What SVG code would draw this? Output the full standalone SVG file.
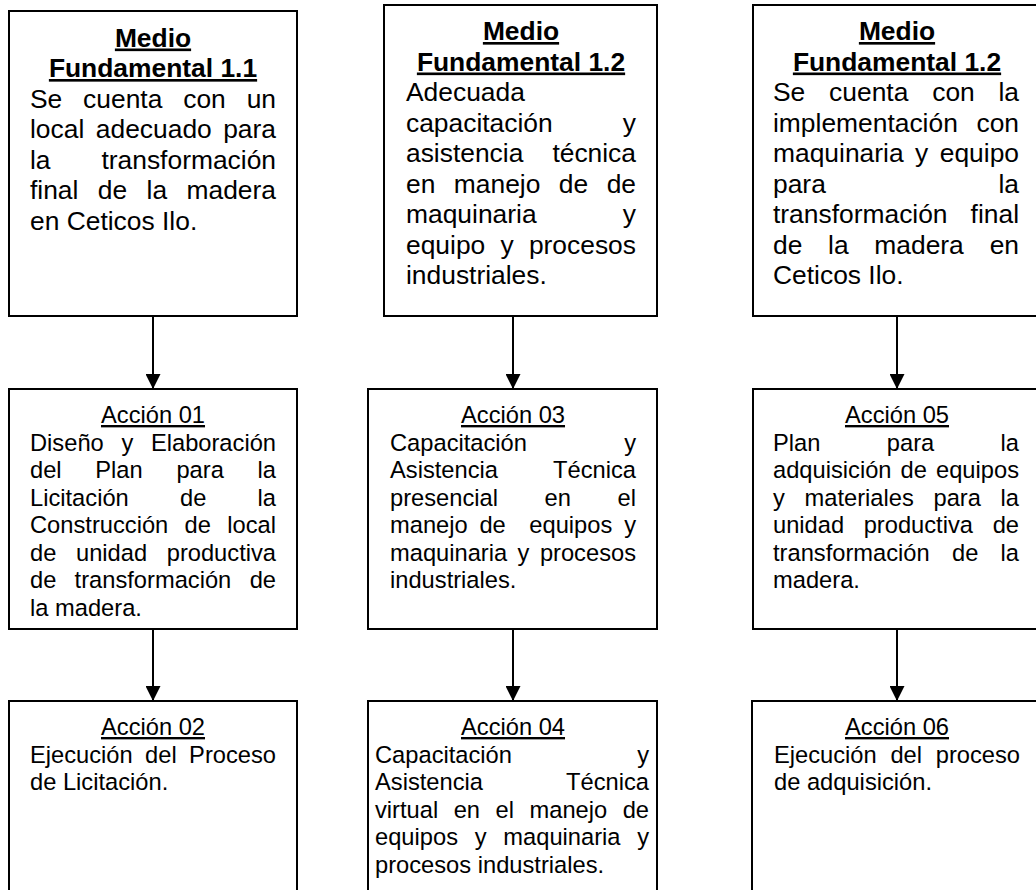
<svg xmlns="http://www.w3.org/2000/svg" width="1036" height="890" viewBox="0 0 1036 890">
<style>
rect.box{fill:#fff;stroke:#000;stroke-width:2}
text{font-family:"Liberation Sans",Arial,Helvetica,sans-serif;fill:#000}
.b1{font-size:26.4px}
.b2{font-size:23.7px}
.ttl{font-size:26.4px;font-weight:bold;text-anchor:middle;text-decoration:underline}
.act{font-size:23.7px;text-anchor:middle;text-decoration:underline}
.e{text-anchor:end}
.con{stroke:#000;stroke-width:2;fill:none;marker-end:url(#ah)}
</style>
<defs>
<marker id="ah" markerUnits="userSpaceOnUse" viewBox="0 0 15 15" markerWidth="15" markerHeight="15" refX="14" refY="7.5" orient="auto">
<path d="M0,0 L15,7.5 L0,15 Z" fill="#000"/>
</marker>
</defs>
<rect width="1036" height="890" fill="#fff"/>

<g id="connectors">
<line class="con" x1="153" y1="316" x2="153" y2="388"/>
<line class="con" x1="513" y1="316" x2="513" y2="388"/>
<line class="con" x1="897" y1="316" x2="897" y2="388"/>
<line class="con" x1="153" y1="629" x2="153" y2="700"/>
<line class="con" x1="513" y1="629" x2="513" y2="700"/>
<line class="con" x1="897" y1="629" x2="897" y2="700"/>
</g>

<g id="mf11">
<rect class="box" x="9" y="11" width="288" height="305"/>
<text class="ttl" x="153" y="46.5">Medio</text>
<text class="ttl" x="153" y="77">Fundamental 1.1</text>
<g class="b1">
<text x="30" y="107.5">Se</text><text x="83.1" y="107.5">cuenta</text><text x="183.2" y="107.5">con</text><text class="e" x="276" y="107.5">un</text>
<text x="30" y="138">local</text><text x="95.8" y="138">adecuado</text><text class="e" x="276" y="138">para</text>
<text x="30" y="168.5">la</text><text class="e" x="276" y="168.5">transformación</text>
<text x="30" y="199">final</text><text x="97.8" y="199">de</text><text x="146.6" y="199">la</text><text class="e" x="276" y="199">madera</text>
<text x="30" y="229.5">en Ceticos Ilo.</text>
</g>
</g>

<g id="mf12a">
<rect class="box" x="384" y="5" width="273" height="311"/>
<text class="ttl" x="521" y="40">Medio</text>
<text class="ttl" x="521" y="70.5">Fundamental 1.2</text>
<g class="b1">
<text x="406" y="101">Adecuada</text>
<text x="406" y="131.5">capacitación</text><text class="e" x="636" y="131.5">y</text>
<text x="406" y="162">asistencia</text><text class="e" x="636" y="162">técnica</text>
<text x="406" y="192.5">en</text><text x="453.8" y="192.5">manejo</text><text x="558.8" y="192.5">de</text><text class="e" x="636" y="192.5">de</text>
<text x="406" y="223">maquinaria</text><text class="e" x="636" y="223">y</text>
<text x="406" y="253.5">equipo</text><text x="500.5" y="253.5">y</text><text class="e" x="636" y="253.5">procesos</text>
<text x="406" y="284">industriales.</text>
</g>
</g>

<g id="mf12b">
<rect class="box" x="753" y="5" width="290" height="311"/>
<text class="ttl" x="897" y="40">Medio</text>
<text class="ttl" x="897" y="70.5">Fundamental 1.2</text>
<g class="b1">
<text x="773" y="101">Se</text><text x="829.1" y="101">cuenta</text><text x="932.2" y="101">con</text><text class="e" x="1019" y="101">la</text>
<text x="773" y="131.5">implementación</text><text class="e" x="1019" y="131.5">con</text>
<text x="773" y="162">maquinaria</text><text x="915" y="162">y</text><text class="e" x="1019" y="162">equipo</text>
<text x="773" y="192.5">para</text><text class="e" x="1019" y="192.5">la</text>
<text x="773" y="223">transformación</text><text class="e" x="1019" y="223">final</text>
<text x="773" y="253.5">de</text><text x="828.1" y="253.5">la</text><text x="874.3" y="253.5">madera</text><text class="e" x="1019" y="253.5">en</text>
<text x="773" y="284">Ceticos Ilo.</text>
</g>
</g>

<g id="accion01">
<rect class="box" x="9" y="389" width="288" height="240"/>
<text class="act" x="153" y="423">Acción 01</text>
<g class="b2">
<text x="30" y="450.5">Diseño</text><text x="121.4" y="450.5">y</text><text class="e" x="276" y="450.5">Elaboración</text>
<text x="30" y="478">del</text><text x="95.3" y="478">Plan</text><text x="176.4" y="478">para</text><text class="e" x="276" y="478">la</text>
<text x="30" y="505.5">Licitación</text><text x="180" y="505.5">de</text><text class="e" x="276" y="505.5">la</text>
<text x="30" y="533">Construcción</text><text x="184.6" y="533">de</text><text class="e" x="276" y="533">local</text>
<text x="30" y="560.5">de</text><text x="76" y="560.5">unidad</text><text class="e" x="276" y="560.5">productiva</text>
<text x="30" y="588">de</text><text x="74.6" y="588">transformación</text><text class="e" x="276" y="588">de</text>
<text x="30" y="615.5">la madera.</text>
</g>
</g>

<g id="accion03">
<rect class="box" x="368" y="389" width="289" height="240"/>
<text class="act" x="513" y="423">Acción 03</text>
<g class="b2">
<text x="390" y="450.5">Capacitación</text><text class="e" x="636" y="450.5">y</text>
<text x="390" y="478">Asistencia</text><text class="e" x="636" y="478">Técnica</text>
<text x="390" y="505.5">presencial</text><text x="544.6" y="505.5">en</text><text class="e" x="636" y="505.5">el</text>
<text x="390" y="533">manejo</text><text x="479.4" y="533">de</text><text x="529.3" y="533">equipos</text><text class="e" x="636" y="533">y</text>
<text x="390" y="560.5">maquinaria</text><text x="517.6" y="560.5">y</text><text class="e" x="636" y="560.5">procesos</text>
<text x="390" y="588">industriales.</text>
</g>
</g>

<g id="accion05">
<rect class="box" x="753" y="389" width="290" height="240"/>
<text class="act" x="897" y="423">Acción 05</text>
<g class="b2">
<text x="773" y="450.5">Plan</text><text x="886.8" y="450.5">para</text><text class="e" x="1019" y="450.5">la</text>
<text x="773" y="478">adquisición</text><text x="900.5" y="478">de</text><text class="e" x="1019" y="478">equipos</text>
<text x="773" y="505.5">y</text><text x="804.5" y="505.5">materiales</text><text x="933.5" y="505.5">para</text><text class="e" x="1019" y="505.5">la</text>
<text x="773" y="533">unidad</text><text x="863.7" y="533">productiva</text><text class="e" x="1019" y="533">de</text>
<text x="773" y="560.5">transformación</text><text x="952" y="560.5">de</text><text class="e" x="1019" y="560.5">la</text>
<text x="773" y="588">madera.</text>
</g>
</g>

<g id="accion02">
<rect class="box" x="9" y="701" width="288" height="200"/>
<text class="act" x="153" y="735">Acción 02</text>
<g class="b2">
<text x="30" y="762.5">Ejecución</text><text x="145.1" y="762.5">del</text><text class="e" x="276" y="762.5">Proceso</text>
<text x="30" y="790">de Licitación.</text>
</g>
</g>

<g id="accion04">
<rect class="box" x="368" y="701" width="289" height="200"/>
<text class="act" x="513" y="735">Acción 04</text>
<g class="b2">
<text x="375" y="762.5">Capacitación</text><text class="e" x="649" y="762.5">y</text>
<text x="375" y="790">Asistencia</text><text class="e" x="649" y="790">Técnica</text>
<text x="375" y="817.5">virtual</text><text x="453.7" y="817.5">en</text><text x="495.6" y="817.5">el</text><text x="529.5" y="817.5">manejo</text><text class="e" x="649" y="817.5">de</text>
<text x="375" y="845">equipos</text><text x="474.7" y="845">y</text><text x="503.3" y="845">maquinaria</text><text class="e" x="649" y="845">y</text>
<text x="375" y="872.5">procesos industriales.</text>
</g>
</g>

<g id="accion06">
<rect class="box" x="752" y="701" width="291" height="200"/>
<text class="act" x="897" y="735">Acción 06</text>
<g class="b2">
<text x="774" y="762.5">Ejecución</text><text x="890.4" y="762.5">del</text><text class="e" x="1020" y="762.5">proceso</text>
<text x="774" y="790">de adquisición.</text>
</g>
</g>
</svg>
